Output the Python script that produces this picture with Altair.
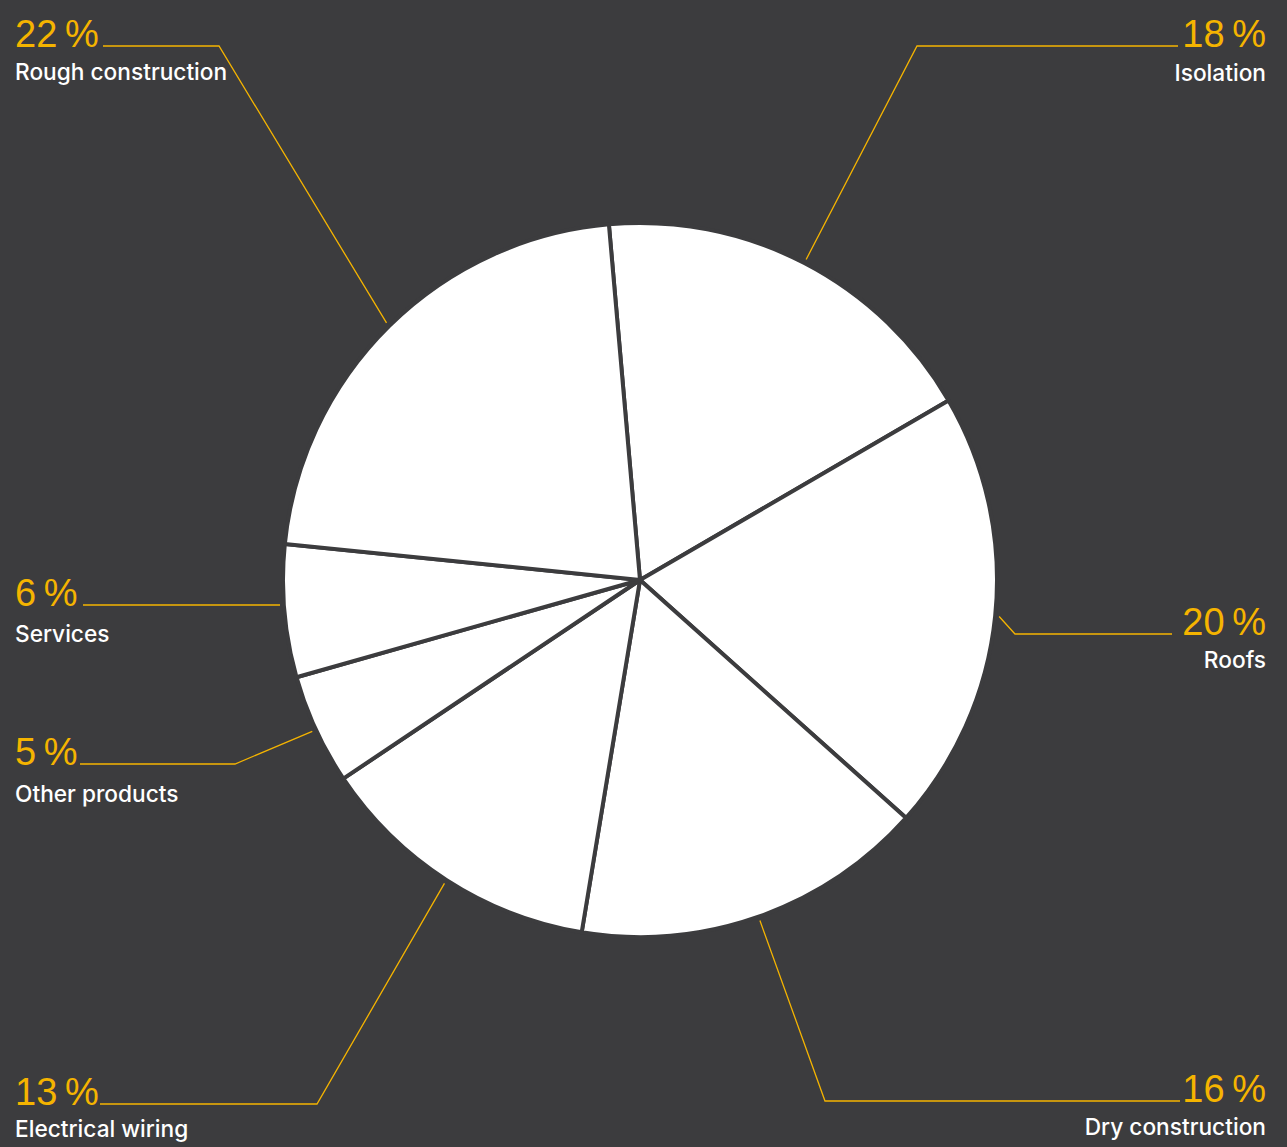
import math
import altair as alt
import pandas as pd

# ---- data ----
categories = ["Isolation", "Roofs", "Dry construction", "Electrical wiring",
              "Other products", "Services", "Rough construction"]
shares = [18, 20, 16, 13, 5, 6, 22]

# ---- layout (pixels) ----
W, H = 1287, 1147
CX, CY, R = 640, 580, 357
START_DEG = -5
BG = "#3c3c3e"
YELLOW = "#f5b400"
FONT = "Liberation Sans"
NAME_FONT = "Inter"

# label side, label x anchor, percent baseline y, name baseline y, line start x, elbow x
layout = {
    "Rough construction": ("left", 15, 47, 80, 103, 219),
    "Isolation": ("right", 1266, 47, 81, 1178, 917),
    "Roofs": ("right", 1266, 635, 668, 1172, 1015),
    "Dry construction": ("right", 1266, 1102, 1135, 1180, 825),
    "Electrical wiring": ("left", 15, 1105, 1137, 100, 317),
    "Other products": ("left", 15, 765, 802, 80, 235),
    "Services": ("left", 15, 606, 642, 83, 280),
}

pie_df = pd.DataFrame({"category": categories, "share": shares,
                       "order": list(range(len(categories)))})

start = math.radians(START_DEG)
pie = alt.Chart(pie_df).mark_arc(radius=R, stroke=BG, strokeWidth=4,
                                 fill="white").encode(
    theta=alt.Theta("share:Q", stack=True,
                    scale=alt.Scale(range=[start, start + 2 * math.pi])),
    order=alt.Order("order:Q"),
    x=alt.value(CX), y=alt.value(CY),
)

# leader lines: from label, horizontal to elbow, then to pie edge at slice mid-angle
total = sum(shares)
rows = []
labels = []
cum = 0
for cat, v in zip(categories, shares):
    mid = start + 2 * math.pi * (cum + v / 2) / total
    cum += v
    side, lx, py, ny, sx, ex = layout[cat]
    r_out = R + 4
    ax = CX + r_out * math.sin(mid)
    ay = CY - r_out * math.cos(mid)
    ly = py - 1
    pts = [(sx, ly), (ex, ly)]
    if cat != "Services":
        pts.append((ax, ay))
    for i, (x, y) in enumerate(pts):
        rows.append({"category": cat, "seq": i, "px": x, "py": y})
    labels.append({"category": cat, "side": side, "lx": lx, "py": py, "ny": ny,
                   "pct": f"{v}\u2009%"})

lead_df = pd.DataFrame(rows)
lab_df = pd.DataFrame(labels)

xs = alt.Scale(domain=[0, W], range=[0, W])
ys = alt.Scale(domain=[0, H], range=[0, H])

leaders = alt.Chart(lead_df).mark_line(color=YELLOW, strokeWidth=1.3).encode(
    x=alt.X("px:Q", scale=xs, axis=None),
    y=alt.Y("py:Q", scale=ys, axis=None),
    detail="category:N",
    order="seq:Q",
)

def text_layer(side, field, ycol, size, color, font, weight):
    return alt.Chart(lab_df).transform_filter(
        alt.datum.side == side
    ).mark_text(align=side, baseline="alphabetic", font=font, fontSize=size,
                fontWeight=weight, color=color).encode(
        x=alt.X("lx:Q", scale=xs, axis=None),
        y=alt.Y(f"{ycol}:Q", scale=ys, axis=None),
        text=f"{field}:N",
    )

texts = [
    text_layer("left", "pct", "py", 38, YELLOW, FONT, 400),
    text_layer("right", "pct", "py", 38, YELLOW, FONT, 400),
    text_layer("left", "category", "ny", 22.7, "white", NAME_FONT, 500),
    text_layer("right", "category", "ny", 22.7, "white", NAME_FONT, 500),
]

chart = alt.layer(pie, leaders, *texts).properties(
    width=W, height=H, padding=0, background=BG,
    autosize=alt.AutoSizeParams(type="none"),
).configure_view(stroke=None)

chart.save("out.html", embed_options={"renderer": "svg", "actions": False})
